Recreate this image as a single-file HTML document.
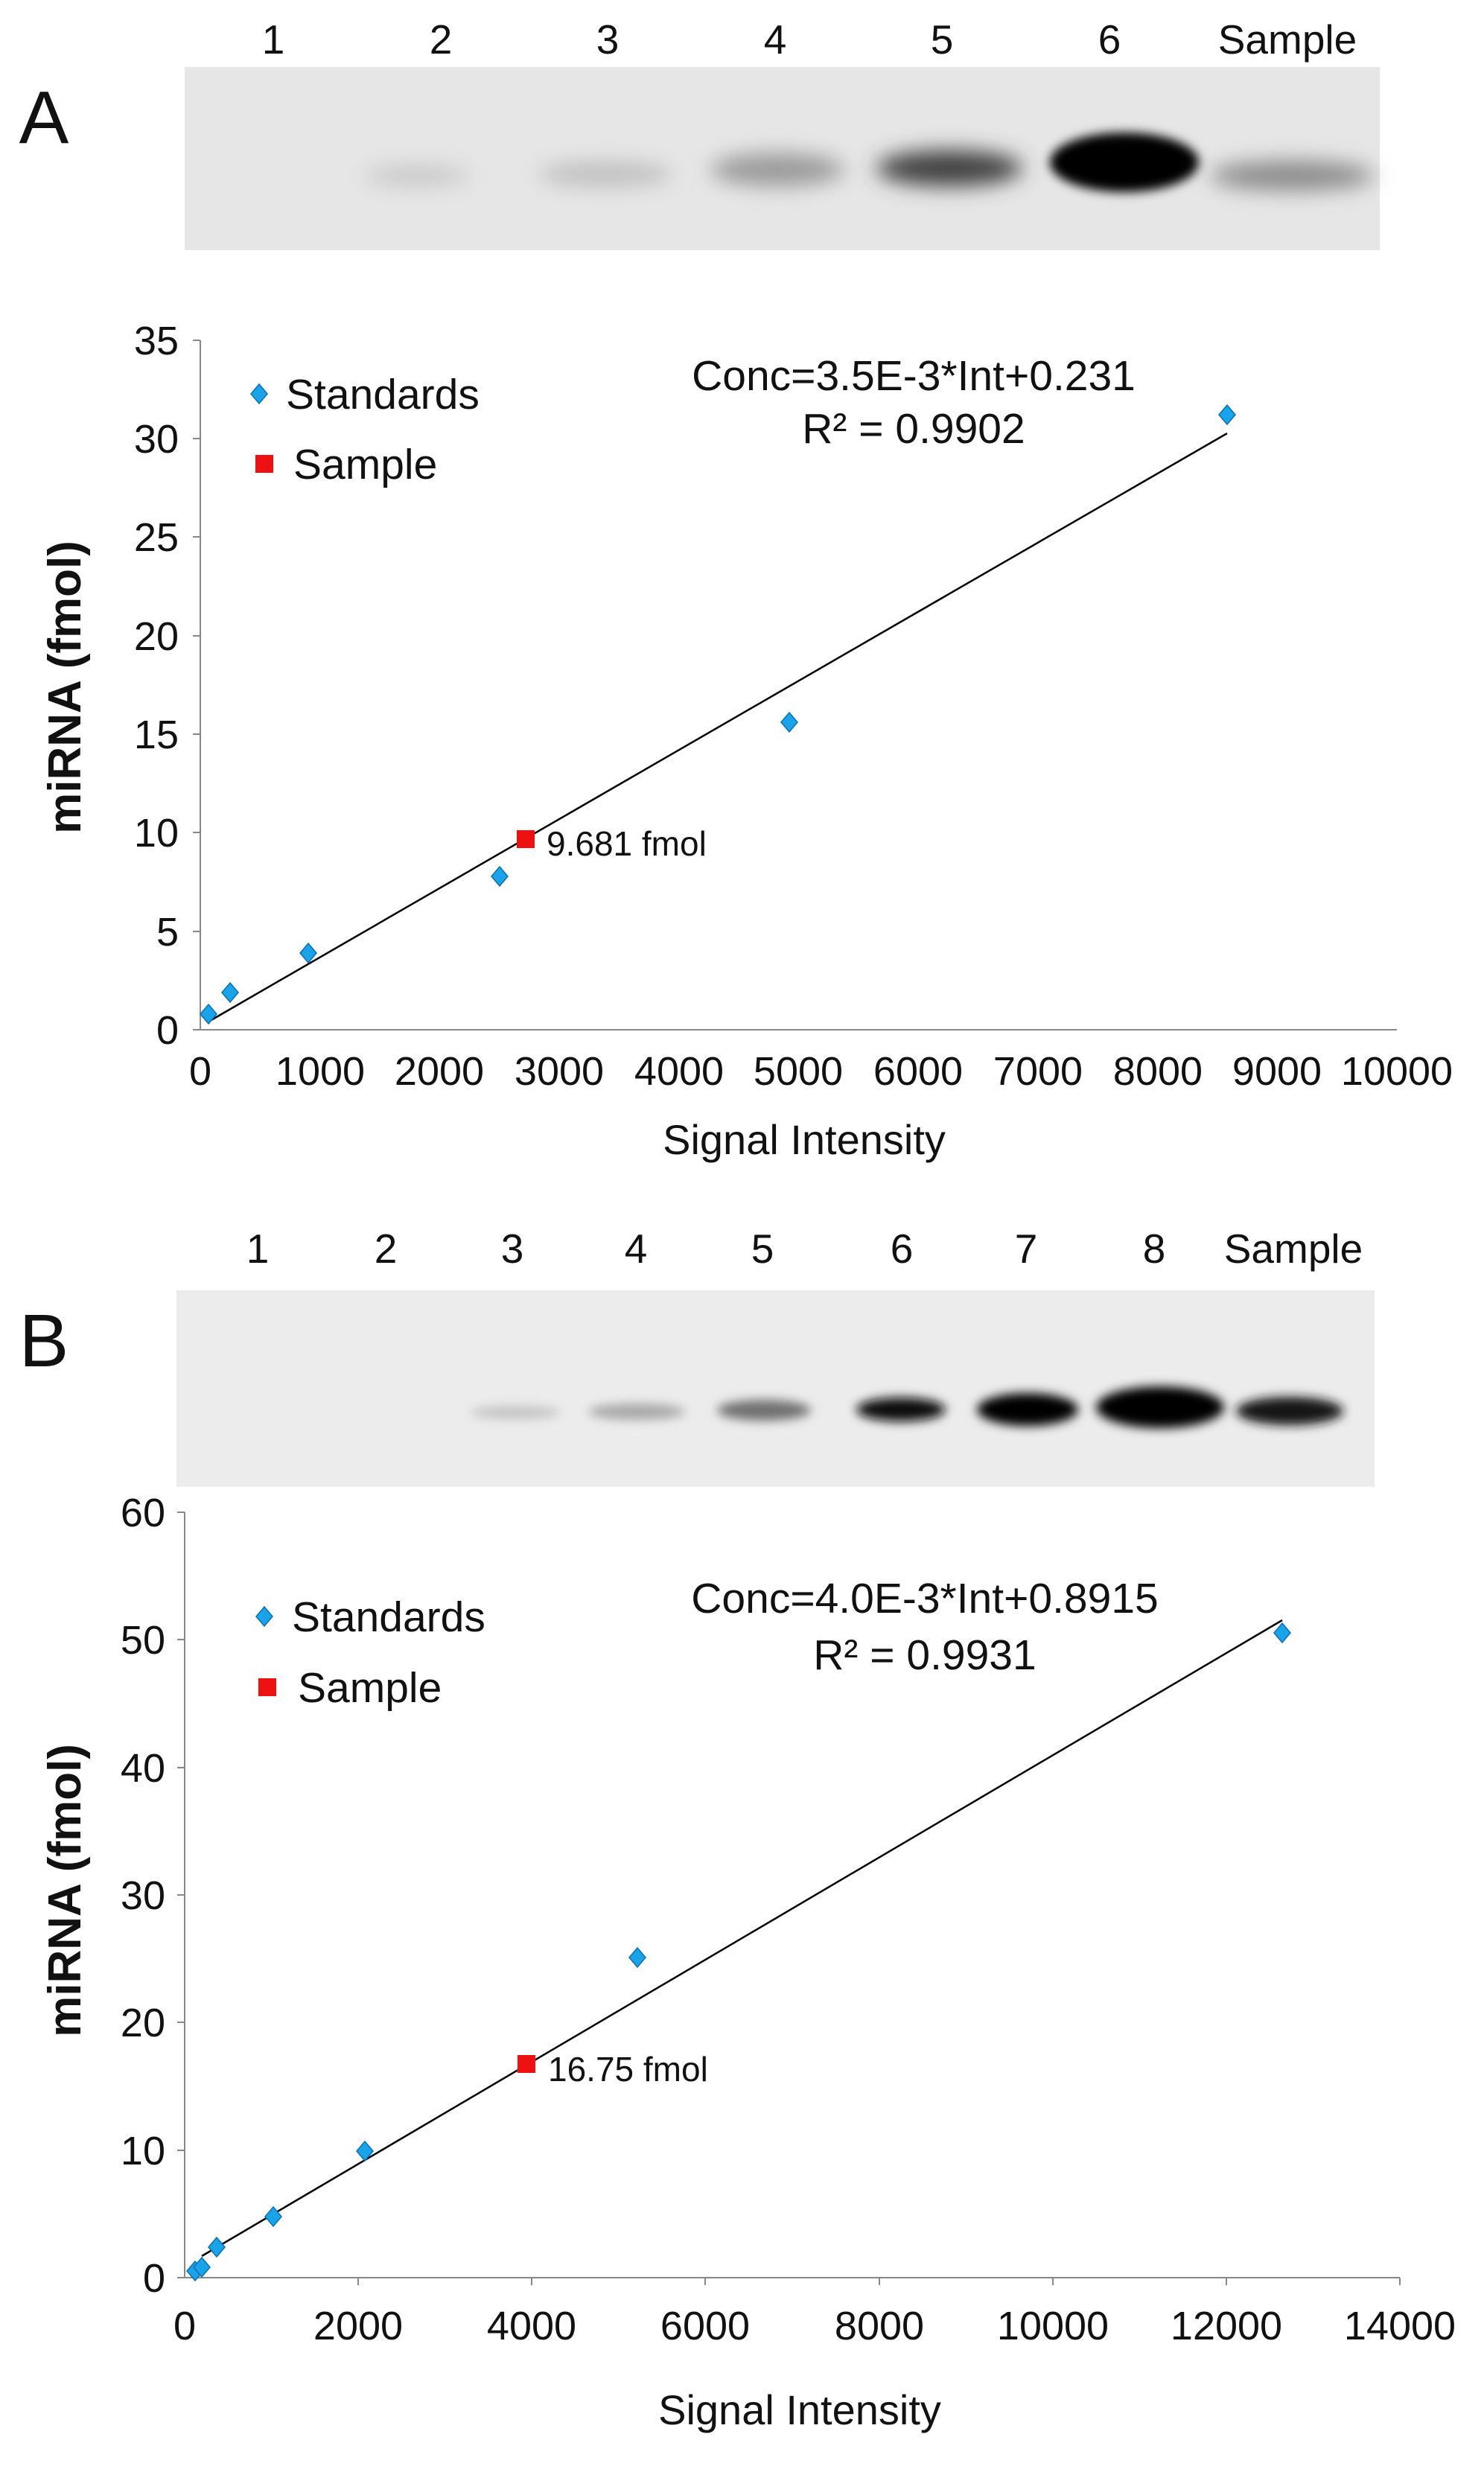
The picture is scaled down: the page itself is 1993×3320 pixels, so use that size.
<!DOCTYPE html>
<html><head><meta charset="utf-8"><style>
html,body{margin:0;padding:0;background:#fff}
svg{display:block}
text{font-family:"Liberation Sans",sans-serif;fill:#111}
</style></head><body>
<svg width="1993" height="3320" viewBox="0 0 1993 3320" xmlns="http://www.w3.org/2000/svg">
<defs>
<filter id="b1" x="-50%" y="-100%" width="200%" height="300%"><feGaussianBlur stdDeviation="14"/></filter>
<filter id="b2" x="-50%" y="-100%" width="200%" height="300%"><feGaussianBlur stdDeviation="7"/></filter>
<g id="dia"><path d="M0,-13 L11,0 L0,13 L-11,0 Z" fill="#1aa3e8" stroke="#0b6fb0" stroke-width="1.5"/></g>
<g id="sq"><rect x="-12" y="-12" width="24" height="24" fill="#ee1111"/></g>
</defs>

<!-- Panel A gel -->
<g font-size="55" text-anchor="middle">
<text x="367" y="72">1</text><text x="592" y="72">2</text><text x="816" y="72">3</text>
<text x="1041" y="72">4</text><text x="1265" y="72">5</text><text x="1490" y="72">6</text>
<text x="1729" y="72">Sample</text>
</g>
<text x="59" y="192" font-size="100" text-anchor="middle">A</text>
<rect x="248" y="90" width="1605" height="246" fill="#e6e6e6"/>
<ellipse cx="560" cy="236" rx="70" ry="14" fill="#c8c8c8" filter="url(#b1)"/>
<ellipse cx="813" cy="234" rx="90" ry="16" fill="#bdbdbd" filter="url(#b1)"/>
<ellipse cx="1044" cy="228" rx="90" ry="22" fill="#9a9a9a" filter="url(#b1)"/>
<ellipse cx="1275" cy="226" rx="98" ry="24" fill="#404040" filter="url(#b1)"/>
<ellipse cx="1510" cy="218" rx="100" ry="40" fill="#050505" filter="url(#b2)"/>
<ellipse cx="1735" cy="236" rx="110" ry="20" fill="#8a8a8a" filter="url(#b1)"/>

<!-- Chart A -->
<g stroke="#888" stroke-width="2" fill="none">
<line x1="269" y1="457" x2="269" y2="1383"/>
<line x1="269" y1="1383" x2="1876" y2="1383"/>
</g>
<g stroke="#888" stroke-width="2">
<line x1="259" y1="457" x2="269" y2="457"/><line x1="259" y1="589" x2="269" y2="589"/>
<line x1="259" y1="721" x2="269" y2="721"/><line x1="259" y1="854" x2="269" y2="854"/>
<line x1="259" y1="986" x2="269" y2="986"/><line x1="259" y1="1118" x2="269" y2="1118"/>
<line x1="259" y1="1251" x2="269" y2="1251"/><line x1="259" y1="1383" x2="269" y2="1383"/>
</g>
<g font-size="54" text-anchor="end">
<text x="240" y="476">35</text><text x="240" y="608">30</text><text x="240" y="740">25</text>
<text x="240" y="873">20</text><text x="240" y="1005">15</text><text x="240" y="1137">10</text>
<text x="240" y="1270">5</text><text x="240" y="1402">0</text>
</g>
<g font-size="54" text-anchor="middle">
<text x="269" y="1457">0</text><text x="430" y="1457">1000</text><text x="590" y="1457">2000</text>
<text x="751" y="1457">3000</text><text x="912" y="1457">4000</text><text x="1072" y="1457">5000</text>
<text x="1233" y="1457">6000</text><text x="1394" y="1457">7000</text><text x="1555" y="1457">8000</text>
<text x="1715" y="1457">9000</text><text x="1876" y="1457">10000</text>
</g>
<text x="1080" y="1550" font-size="56" text-anchor="middle">Signal Intensity</text>
<text transform="translate(108,923) rotate(-90)" font-size="62" font-weight="bold" text-anchor="middle">miRNA (fmol)</text>
<text x="1227" y="524" font-size="57" text-anchor="middle">Conc=3.5E-3*Int+0.231</text>
<text x="1227" y="595" font-size="57" text-anchor="middle">R² = 0.9902</text>
<use href="#dia" x="348" y="529"/><text x="384" y="549" font-size="57">Standards</text>
<use href="#sq" x="355" y="623"/><text x="394" y="643" font-size="57">Sample</text>
<line x1="282" y1="1371" x2="1648" y2="582" stroke="#000" stroke-width="2.5"/>
<use href="#dia" x="280" y="1362"/><use href="#dia" x="309" y="1333"/>
<use href="#dia" x="414" y="1280"/><use href="#dia" x="671" y="1177"/>
<use href="#dia" x="1060" y="970"/><use href="#dia" x="1648" y="557"/>
<use href="#sq" x="706" y="1127"/>
<text x="734" y="1149" font-size="46">9.681 fmol</text>

<!-- Panel B gel -->
<g font-size="55" text-anchor="middle">
<text x="346" y="1696">1</text><text x="518" y="1696">2</text><text x="688" y="1696">3</text>
<text x="854" y="1696">4</text><text x="1024" y="1696">5</text><text x="1211" y="1696">6</text>
<text x="1378" y="1696">7</text><text x="1550" y="1696">8</text><text x="1737" y="1696">Sample</text>
</g>
<text x="59" y="1835" font-size="100" text-anchor="middle">B</text>
<rect x="237" y="1733" width="1609" height="264" fill="#ececec"/>
<ellipse cx="692" cy="1897" rx="60" ry="9" fill="#c4c4c4" filter="url(#b2)"/>
<ellipse cx="855" cy="1896" rx="65" ry="11" fill="#a8a8a8" filter="url(#b2)"/>
<ellipse cx="1026" cy="1894" rx="63" ry="14" fill="#707070" filter="url(#b2)"/>
<ellipse cx="1210" cy="1893" rx="60" ry="16" fill="#101010" filter="url(#b2)"/>
<ellipse cx="1380" cy="1893" rx="68" ry="22" fill="#050505" filter="url(#b2)"/>
<ellipse cx="1558" cy="1890" rx="86" ry="28" fill="#030303" filter="url(#b2)"/>
<ellipse cx="1732" cy="1895" rx="72" ry="19" fill="#151515" filter="url(#b2)"/>

<!-- Chart B -->
<g stroke="#888" stroke-width="2" fill="none">
<line x1="248" y1="2031" x2="248" y2="3059"/>
<line x1="248" y1="3059" x2="1880" y2="3059"/>
</g>
<g stroke="#888" stroke-width="2">
<line x1="238" y1="2031" x2="248" y2="2031"/><line x1="238" y1="2202" x2="248" y2="2202"/>
<line x1="238" y1="2374" x2="248" y2="2374"/><line x1="238" y1="2545" x2="248" y2="2545"/>
<line x1="238" y1="2716" x2="248" y2="2716"/><line x1="238" y1="2888" x2="248" y2="2888"/>
<line x1="238" y1="3059" x2="248" y2="3059"/>
<line x1="481" y1="3059" x2="481" y2="3069"/>
<line x1="714" y1="3059" x2="714" y2="3069"/>
<line x1="947" y1="3059" x2="947" y2="3069"/>
<line x1="1181" y1="3059" x2="1181" y2="3069"/>
<line x1="1414" y1="3059" x2="1414" y2="3069"/>
<line x1="1647" y1="3059" x2="1647" y2="3069"/>
<line x1="1880" y1="3059" x2="1880" y2="3069"/>
</g>
<g font-size="54" text-anchor="end">
<text x="222" y="2050">60</text><text x="222" y="2221">50</text><text x="222" y="2393">40</text>
<text x="222" y="2564">30</text><text x="222" y="2735">20</text><text x="222" y="2907">10</text>
<text x="222" y="3078">0</text>
</g>
<g font-size="54" text-anchor="middle">
<text x="248" y="3142">0</text><text x="481" y="3142">2000</text><text x="714" y="3142">4000</text>
<text x="947" y="3142">6000</text><text x="1181" y="3142">8000</text><text x="1414" y="3142">10000</text>
<text x="1647" y="3142">12000</text><text x="1880" y="3142">14000</text>
</g>
<text x="1074" y="3256" font-size="56" text-anchor="middle">Signal Intensity</text>
<text transform="translate(108,2539) rotate(-90)" font-size="62" font-weight="bold" text-anchor="middle">miRNA (fmol)</text>
<text x="1242" y="2166" font-size="57" text-anchor="middle">Conc=4.0E-3*Int+0.8915</text>
<text x="1242" y="2242" font-size="57" text-anchor="middle">R² = 0.9931</text>
<use href="#dia" x="355" y="2171"/><text x="392" y="2191" font-size="57">Standards</text>
<use href="#sq" x="359" y="2266"/><text x="400" y="2286" font-size="57">Sample</text>
<line x1="271" y1="3030" x2="1722" y2="2176" stroke="#000" stroke-width="2.5"/>
<use href="#dia" x="262" y="3050"/><use href="#dia" x="271" y="3045"/>
<use href="#dia" x="291" y="3018"/><use href="#dia" x="367" y="2977"/>
<use href="#dia" x="490" y="2889"/><use href="#dia" x="856" y="2629"/>
<use href="#dia" x="1722" y="2193"/>
<use href="#sq" x="707" y="2772"/>
<text x="736" y="2795" font-size="46">16.75 fmol</text>
</svg>
</body></html>
